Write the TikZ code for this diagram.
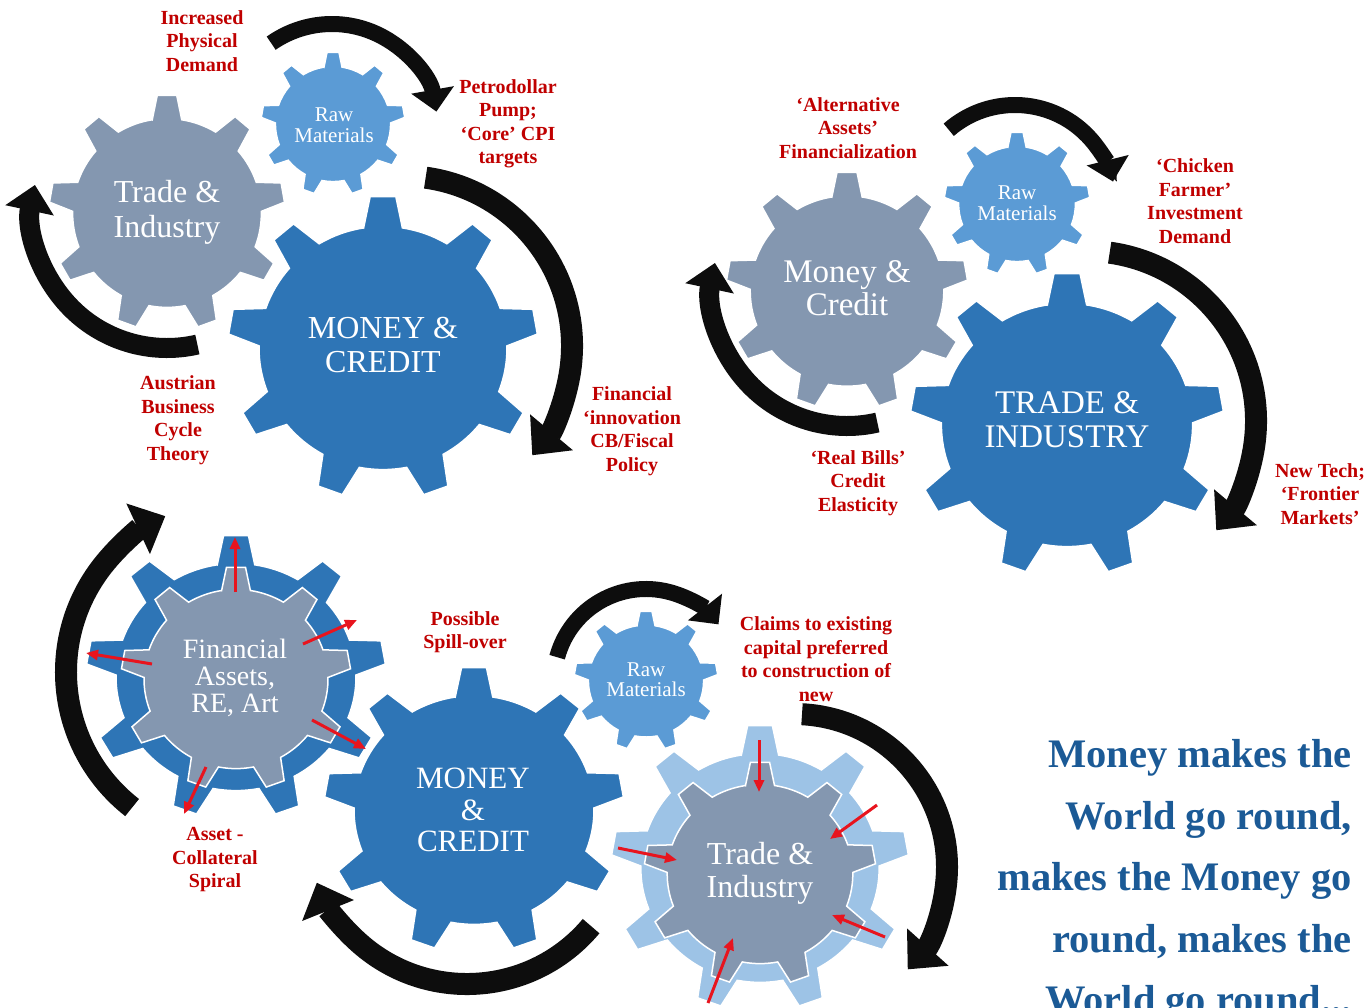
\documentclass[tikz,border=0pt]{standalone}
\usepackage{fontspec}
\setmainfont[Ligatures=TeX]{Liberation Serif}
\usetikzlibrary{arrows.meta}
\definecolor{gearblue}{HTML}{2E75B6}
\definecolor{gearraw}{HTML}{5B9BD5}
\definecolor{geargrey}{HTML}{8497B0}
\definecolor{gearlight}{HTML}{9DC3E6}
\definecolor{labelred}{HTML}{C00000}
\definecolor{arrowred}{HTML}{E8141E}
\definecolor{titleblue}{HTML}{1B5A96}
\definecolor{bandblack}{HTML}{0D0D0D}
\newcommand{\gearshape}[5]{%
  \begin{scope}[shift={(#1,#2)},xscale=#3,yscale=#4]
    \filldraw[fill=#5,draw=white,line width=1.5pt] ({-99}:0.8)
      \foreach \a in {-90,-50,...,230} {
        -- ({\a-4.75}:1) -- ({\a+4.75}:1) -- ({\a+9}:0.8)
        arc[start angle={\a+9}, end angle={\a+31}, radius=0.8] } -- cycle;
  \end{scope}}
\tikzset{
  gearlabel/.style={text=white, align=center, inner sep=0pt},
  redlabel/.style={text=labelred, align=center, inner sep=0pt,
    font=\bfseries\fontsize{20}{23.5}\selectfont},
  titleline/.style={text=titleblue, anchor=base east, inner sep=0pt,
    font=\bfseries\fontsize{40.5}{44}\selectfont},
  bandsmall/.style={draw=bandblack, line width=16pt, line cap=butt,
    -{Triangle[length=22pt,width=42pt]}},
  bandmid/.style={draw=bandblack, line width=20pt, line cap=butt,
    -{Triangle[length=26pt,width=48pt]}},
  bandbig/.style={draw=bandblack, line width=22pt, line cap=butt,
    -{Triangle[length=30pt,width=54pt]}},
  redarrow/.style={draw=arrowred, line width=3pt,
    -{Triangle[length=12pt,width=10pt]}},
}
\begin{document}
\begin{tikzpicture}[x=1pt,y=-1pt]
\useasboundingbox (0,0) rectangle (1372,1007);
\fill[white] (0,0) rectangle (1372,1007);

% ---------- top-left panel ----------
\gearshape{167}{213}{118}{118}{geargrey}
\gearshape{333}{124}{72}{72}{gearraw}
\gearshape{383}{348}{155}{152}{gearblue}
\node[gearlabel, font=\fontsize{32}{35}\selectfont] (g1) at (167,212) {Trade \&\\Industry};
\node[gearlabel, font=\fontsize{21}{21.5}\selectfont] (g2) at (334,125) {Raw\\Materials};
\node[gearlabel, font=\fontsize{32}{34}\selectfont] (g3) at (383,345) {MONEY \&\\CREDIT};

\coordinate (a1s) at ([shift={(332,130)}]-125:106);
\draw[bandsmall] (a1s) arc[start angle=-125, end angle=-10, radius=106];
\coordinate (a2s) at ([shift={(402,346)}]-82:170);
\draw[bandbig] (a2s) arc[start angle=-82, end angle=40, radius=170];
\coordinate (a3s) at ([shift={(167,213)}]77:135);
\draw[bandmid] (a3s) arc[start angle=77, end angle=192, radius=135];

\node[redlabel] (l1) at (202,41) {Increased\\Physical\\Demand};
\node[redlabel] (l2) at (508,124) {Petrodollar\\Pump;\\`Core' CPI\\targets};
\node[redlabel] (l3) at (632,431) {Financial\\`innovation\\CB/Fiscal\\Policy};
\node[redlabel] (l4) at (178,420) {Austrian\\Business\\Cycle\\Theory};

% ---------- top-right panel ----------
\gearshape{847}{291}{121}{119}{geargrey}
\gearshape{1017}{204}{73}{72}{gearraw}
\gearshape{1067}{425}{157}{152}{gearblue}
\node[gearlabel, font=\fontsize{33}{33}\selectfont] (g4) at (847,288) {Money \&\\Credit};
\node[gearlabel, font=\fontsize{21}{21}\selectfont] (g5) at (1017,203) {Raw\\Materials};
\node[gearlabel, font=\fontsize{33}{34}\selectfont] (g6) at (1067,420) {TRADE \&\\INDUSTRY};

\coordinate (a4s) at ([shift={(1015,206)}]-131:101);
\draw[bandsmall] (a4s) arc[start angle=-131, end angle=-14, radius=101];
\coordinate (a5s) at ([shift={(1086,421)}]-82:170);
\draw[bandbig] (a5s) arc[start angle=-82, end angle=40, radius=170];
\coordinate (a6s) at ([shift={(847,291)}]77:135);
\draw[bandmid] (a6s) arc[start angle=77, end angle=192, radius=135];

\node[redlabel] (l5) at (848,128) {`Alternative\\Assets'\\Financialization};
\node[redlabel] (l6) at (1195,201) {`Chicken\\Farmer'\\Investment\\Demand};
\node[redlabel] (l7) at (858,483) {`Real Bills'\\Credit\\Elasticity};
\node[redlabel] (l8) at (1320,494) {New Tech;\\`Frontier\\Markets'};

% ---------- bottom panel ----------
\gearshape{236}{677}{150}{142}{gearblue}
\gearshape{236}{679}{115}{112}{geargrey}
\gearshape{474}{810}{150}{143}{gearblue}
\gearshape{646}{681}{72}{70}{gearraw}
\gearshape{760}{868}{149}{143}{gearlight}
\gearshape{760}{874}{116}{112}{geargrey}
\node[gearlabel, font=\fontsize{28}{27}\selectfont] (g7) at (235,678) {Financial\\Assets,\\RE, Art};
\node[gearlabel, font=\fontsize{31}{31.5}\selectfont] (g8) at (473,810) {MONEY\\\&\\CREDIT};
\node[gearlabel, font=\fontsize{21}{20}\selectfont] (g9) at (646,680) {Raw\\Materials};
\node[gearlabel, font=\fontsize{32}{33}\selectfont] (g10) at (760,873) {Trade \&\\Industry};

\coordinate (a7s) at ([shift={(238,672)}]128:172);
\draw[bandbig] (a7s) arc[start angle=128, end angle=245, radius=172];
\coordinate (a8s) at ([shift={(467,822)}]40:162);
\draw[bandbig] (a8s) arc[start angle=40, end angle=158, radius=162];
\coordinate (a9s) at ([shift={(646,681)}]-165:92);
\draw[bandsmall] (a9s) arc[start angle=-165, end angle=-38, radius=92];
\coordinate (a10s) at ([shift={(794,867)}]-87:153);
\draw[bandbig] (a10s) arc[start angle=-87, end angle=42, radius=153];

% red arrows, financial assets (outward)
\coordinate (f1a) at (235,592); \coordinate (f1b) at (235,537);
\coordinate (f2a) at (152,664); \coordinate (f2b) at (86,653);
\coordinate (f3a) at (303,644); \coordinate (f3b) at (357,620);
\coordinate (f4a) at (312,720); \coordinate (f4b) at (366,749);
\coordinate (f5a) at (206,767); \coordinate (f5b) at (184,814);
\foreach \s/\t in {f1a/f1b,f2a/f2b,f3a/f3b,f4a/f4b,f5a/f5b}
  \draw[redarrow] (\s) -- (\t);
% red arrows, trade & industry (inward)
\coordinate (t1a) at (759,740); \coordinate (t1b) at (759,792);
\coordinate (t2a) at (877,805); \coordinate (t2b) at (830,839);
\coordinate (t3a) at (618,848); \coordinate (t3b) at (677,860);
\coordinate (t4a) at (885,937); \coordinate (t4b) at (832,915);
\coordinate (t5a) at (708,1003); \coordinate (t5b) at (733,938);
\foreach \s/\t in {t1a/t1b,t2a/t2b,t3a/t3b,t4a/t4b,t5a/t5b}
  \draw[redarrow] (\s) -- (\t);

\node[redlabel] (l9) at (465,632) {Possible\\Spill-over};
\node[redlabel] (l10) at (215,860) {Asset -\\Collateral\\Spiral};
\node[redlabel] (l11) at (816,659) {Claims to existing\\capital preferred\\to construction of\\new};

% ---------- title text ----------
\node[titleline] (t1) at (1352,767) {Money makes the};
\node[titleline] (t2) at (1352,829) {World go round,};
\node[titleline] (t3) at (1352,890) {makes the Money go};
\node[titleline] (t4) at (1352,952) {round, makes the};
\node[titleline] (t5) at (1352,1013) {World go round...};
\end{tikzpicture}
\end{document}
